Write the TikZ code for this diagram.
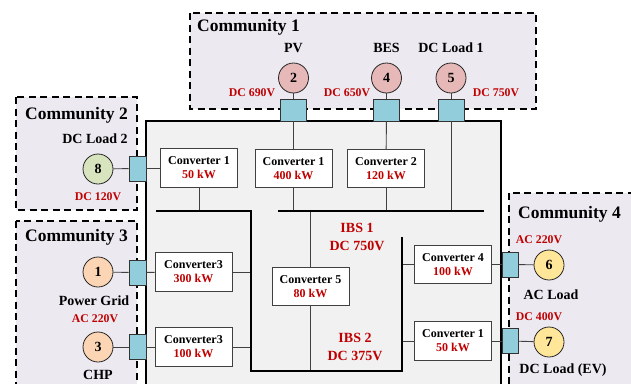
\documentclass[tikz,border=0pt]{standalone}
\usepackage{fontspec}
\setmainfont{Liberation Serif}
\begin{document}
\begin{tikzpicture}[x=1pt,y=-1pt,
  comm/.style={draw=black, line width=1.4pt, dash pattern=on 7pt off 4.5pt, fill=commfill},
  sq/.style={draw=black!80, line width=0.8pt, fill=sqblue, inner sep=0pt},
  sqtop/.style={sq, minimum width=26pt, minimum height=22pt},
  sqside/.style={sq, minimum width=17pt, minimum height=25pt},
  nd/.style={circle, draw=black!85, line width=0.8pt, minimum size=30pt, inner sep=0pt, font=\fontsize{14}{14}\selectfont\bfseries},
  conv/.style={draw=black!75, line width=0.9pt, fill=white, minimum width=77pt, minimum height=38.5pt, align=center, inner sep=1pt, font=\fontsize{12}{14}\selectfont\bfseries},
  lbl/.style={font=\fontsize{14}{14}\selectfont\bfseries, inner sep=0pt},
  vlt/.style={font=\fontsize{11.8}{12}\selectfont\bfseries, text=redtxt, inner sep=0pt},
  ttl/.style={font=\fontsize{17.5}{18}\selectfont\bfseries, inner sep=0pt, anchor=west},
  ibs/.style={font=\fontsize{14}{18}\selectfont\bfseries, text=redtxt, align=center, inner sep=0pt},
  wire/.style={draw=black!75, line width=0.9pt},
  thick bus/.style={draw=black, line width=2.4pt}
]
\definecolor{commfill}{RGB}{236,233,241}
\definecolor{mainfill}{RGB}{241,241,241}
\definecolor{sqblue}{RGB}{146,205,220}
\definecolor{pinkc}{RGB}{230,184,183}
\definecolor{greenc}{RGB}{215,228,189}
\definecolor{peachc}{RGB}{252,213,180}
\definecolor{yellowc}{RGB}{255,230,153}
\definecolor{redtxt}{RGB}{192,0,0}
\useasboundingbox (0,0) rectangle (631,383);

% community areas
\path[comm] (190,13) rectangle (536,109);
\path[comm] (16,97) rectangle (137,210);
\path[comm] (16,221) rectangle (137,395);
\path[comm] (509,193) rectangle (640,395);
% main box
\path[draw=black, line width=1.3pt, fill=mainfill] (146,121) rectangle (501,395);

% titles
\node[ttl] (t1) at (197,27) {Community 1};
\node[ttl] (t2) at (25,115) {Community 2};
\node[ttl] (t3) at (25,237) {Community 3};
\node[ttl] (t4) at (518,214) {Community 4};

% sources / loads
\node[nd, fill=pinkc] (n2) at (293.5,78) {2};
\node[nd, fill=pinkc] (n4) at (386.5,78) {4};
\node[nd, fill=pinkc] (n5) at (451,78) {5};
\node[nd, fill=greenc] (n8) at (98,169) {8};
\node[nd, fill=peachc] (n1) at (98,272) {1};
\node[nd, fill=peachc] (n3) at (98,347) {3};
\node[nd, fill=yellowc] (n6) at (549,265) {6};
\node[nd, fill=yellowc] (n7) at (549,342) {7};

\node[lbl] (l2) at (293.5,48) {PV};
\node[lbl] (l4) at (386.5,48) {BES};
\node[lbl] (l5) at (451,48) {DC Load 1};
\node[lbl] (l8) at (95,139) {DC Load 2};
\node[lbl] (l1) at (94,301) {Power Grid};
\node[lbl] (l3) at (98,375) {CHP};
\node[lbl] (l6) at (551,295) {AC Load};
\node[lbl] (l7) at (563,370) {DC Load (EV)};

\node[vlt] (v2) at (252,93) {DC 690V};
\node[vlt] (v4) at (347,93) {DC 650V};
\node[vlt] (v5) at (496,93) {DC 750V};
\node[vlt] (v8) at (98,197) {DC 120V};
\node[vlt] (v1) at (95,319) {AC 220V};
\node[vlt] (v6) at (539,240) {AC 220V};
\node[vlt] (v7) at (539,317) {DC 400V};

% interface squares
\node[sqtop] (s2) at (293.5,110) {};
\node[sqtop] (s4) at (386.5,110) {};
\node[sqtop] (s5) at (451,110) {};
\node[sqside] (s8) at (137.5,168.5) {};
\node[sqside] (s1) at (137.5,272.5) {};
\node[sqside] (s3) at (137.5,347) {};
\node[sqside, minimum width=16pt] (s6) at (510,264.5) {};
\node[sqside, minimum width=16pt] (s7) at (510,341) {};

% converters
\node[conv] (c1) at (199,168) {Converter 1\\\textcolor{redtxt}{50 kW}};
\node[conv] (c2) at (293.5,168.5) {Converter 1\\\textcolor{redtxt}{400 kW}};
\node[conv] (c3) at (386,168.5) {Converter 2\\\textcolor{redtxt}{120 kW}};
\node[conv] (c4) at (193.5,272) {Converter3\\\textcolor{redtxt}{300 kW}};
\node[conv] (c5) at (193.5,347) {Converter3\\\textcolor{redtxt}{100 kW}};
\node[conv] (c6) at (310.5,286.5) {Converter 5\\\textcolor{redtxt}{80 kW}};
\node[conv] (c7) at (453,264.5) {Converter 4\\\textcolor{redtxt}{100 kW}};
\node[conv] (c8) at (453,341) {Converter 1\\\textcolor{redtxt}{50 kW}};

% IBS labels
\node[ibs] (ibs1) at (357,237) {IBS 1\\DC 750V};
\node[ibs] (ibs2) at (355,346.5) {IBS 2\\DC 375V};

% bus coordinates
\coordinate (a1) at (278,211);
\coordinate (a2) at (484,211);
\coordinate (b1) at (156,211);
\coordinate (b2) at (251,211);
\coordinate (b3) at (251,371);
\coordinate (b4) at (402,371);
\coordinate (b5) at (402,237);

% wires
\draw[wire] (n2) -- (s2);
\draw[wire] (n4) -- (s4);
\draw[wire] (n5) -- (s5);
\draw[wire] (s2) -- (c2);
\draw[wire] (s4) -- (c3);
\draw[wire] (s5.south) -- (s5.south |- a1);
\draw[wire] (c1.south) -- (c1.south |- b1);
\draw[wire] (c2.south) -- (c2.south |- a1);
\draw[wire] (c3.south) -- (c3.south |- a1);
\draw[wire] (c6.north) -- (c6.north |- a1);
\draw[wire] (c6.south) -- (c6.south |- b3);
\draw[wire] (n8) -- (s8);
\draw[wire] (s8) -- (c1.west |- s8);
\draw[wire] (n1) -- (s1);
\draw[wire] (s1) -- (c4);
\draw[wire] (n3) -- (s3);
\draw[wire] (s3) -- (c5);
\draw[wire] (c4.east) -- (c4.east -| b2);
\draw[wire] (c5.east) -- (c5.east -| b2);
\draw[wire] (c7.west) -- (c7.west -| b4);
\draw[wire] (c8.west) -- (c8.west -| b4);
\draw[wire] (c7) -- (s6);
\draw[wire] (s6) -- (n6);
\draw[wire] (c8) -- (s7);
\draw[wire] (s7) -- (n7);

% buses
\draw[thick bus] (a1) -- (a2);
\draw[thick bus, line join=miter] (b1) -- (b2) -- (b3) -- (b4) -- (b5);
\end{tikzpicture}
\end{document}
